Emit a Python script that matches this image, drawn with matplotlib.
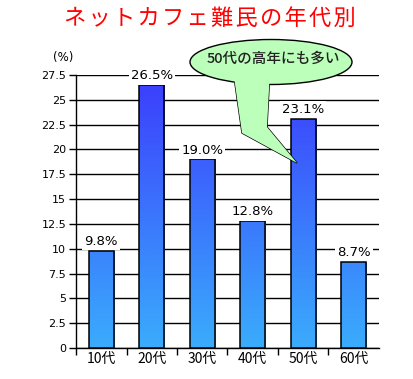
import matplotlib.pyplot as plt
import numpy as np
from matplotlib.colors import LinearSegmentedColormap
from matplotlib.patches import Ellipse, Polygon

plt.rcParams['font.family'] = ['Noto Sans CJK JP', 'DejaVu Sans']

categories = ['10代', '20代', '30代', '40代', '50代', '60代']
values = [9.8, 26.5, 19.0, 12.8, 23.1, 8.7]
yticks = [0, 2.5, 5, 7.5, 10, 12.5, 15, 17.5, 20, 22.5, 25, 27.5]
ytick_labels = ['0', '2.5', '5', '7.5', '10', '12.5', '15', '17.5', '20', '22.5', '25', '27.5']
title = 'ネットカフェ難民の年代別'
callout = '50代の高年にも多い'

W, H = 414, 379
fig = plt.figure(figsize=(W / 100, H / 100), dpi=100)


def fx(px):
    return px / W


def fy(py):
    return 1 - py / H


ax = fig.add_axes([fx(76), fy(348), fx(379) - fx(76), fy(75) - fy(348)])

x = np.arange(len(categories))
bars = ax.bar(x, values, width=0.5, facecolor='none', edgecolor='black',
              linewidth=1.1, zorder=4)

# vertical gradient shared by all bars, clipped to each bar
cmap = LinearSegmentedColormap.from_list('grad', ['#3aacfc', '#3c3cfc'])
grad = np.linspace(0, 1, 256).reshape(-1, 1)
for b in bars:
    im = ax.imshow(grad, cmap=cmap, origin='lower', aspect='auto',
                   extent=(b.get_x(), b.get_x() + b.get_width(), 0, yticks[-1]),
                   zorder=3)
    im.set_clip_path(b)

for xi, v in zip(x, values):
    ax.text(xi, v + 0.9, f'{v:.1f}%', ha='center', va='center', fontsize=9.5,
            family=['DejaVu Sans'],
            bbox=dict(facecolor='white', edgecolor='none', pad=1.5), zorder=5)

ax.set_xlim(-0.5, len(categories) - 0.5)
ax.set_ylim(0, yticks[-1])
ax.set_yticks(yticks)
ax.set_yticklabels(ytick_labels, fontsize=8, family=['DejaVu Sans'])
ax.yaxis.grid(True, color='black', linewidth=1.0)
ax.set_axisbelow(True)

ax.set_xticks(x - 0.5)
ax.set_xticklabels([])
ax.set_xticks(x, minor=True)
ax.set_xticklabels(categories, minor=True, fontsize=10)
ax.tick_params(axis='x', which='minor', length=0, pad=3)
ax.tick_params(axis='x', which='major', length=5, width=1, direction='out')
ax.tick_params(axis='y', length=5, width=1, direction='out', pad=2)

for s in ['top', 'right']:
    ax.spines[s].set_visible(False)
ax.spines['left'].set_linewidth(1.0)
ax.spines['bottom'].set_linewidth(1.0)

fig.text(fx(63), fy(57), '(%)', ha='center', va='center', fontsize=8.5,
         family=['DejaVu Sans'])

fig.text(fx(210), fy(18), '\u200a'.join(title), ha='center', va='center',
         fontsize=16, color='#ff0000')

# speech bubble
tail = [(fx(233), fy(70)), (fx(242), fy(133)), (fx(297), fy(163)),
        (fx(267), fy(127)), (fx(270), fy(70))]
fig.patches.append(Polygon(tail, closed=True, transform=fig.transFigure,
                           facecolor='#bbffbb', edgecolor='black', linewidth=1.0,
                           zorder=6))
fig.patches.append(Ellipse((fx(271), fy(62)), fx(162), 45 / H,
                           transform=fig.transFigure, facecolor='#bbffbb',
                           edgecolor='black', linewidth=1.0, zorder=7))
fig.patches.append(Polygon(tail, closed=True, transform=fig.transFigure,
                           facecolor='#bbffbb', edgecolor='none', zorder=8))
fig.text(fx(273), fy(59), callout, ha='center', va='center', fontsize=10.5,
         fontweight='medium', color='#222222', zorder=9)

fig.savefig('out.png', dpi=100)
